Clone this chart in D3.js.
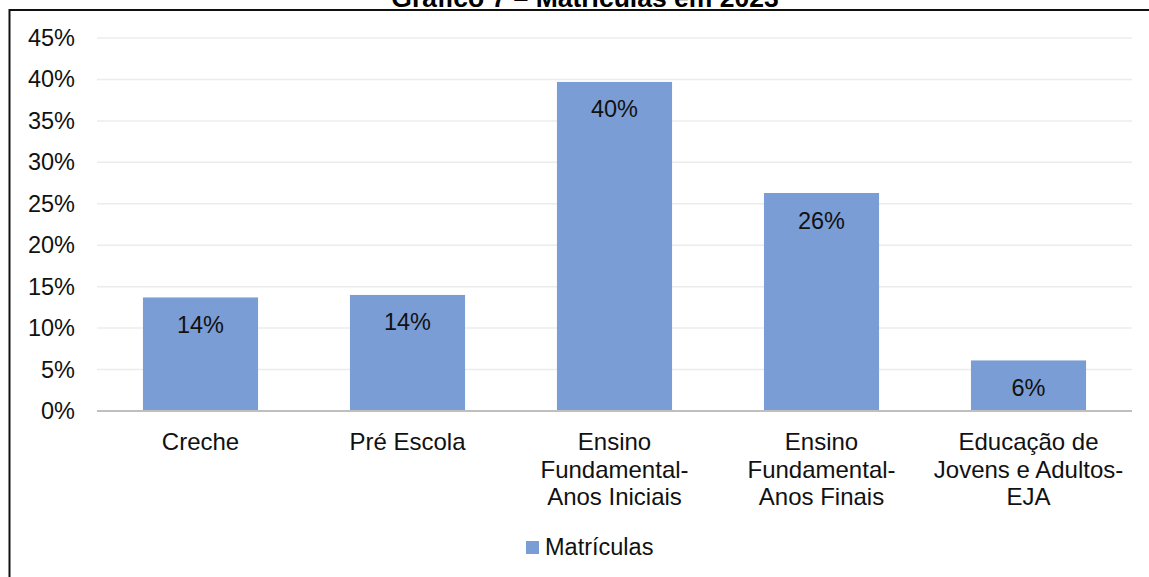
<!DOCTYPE html>
<html lang="pt">

<head>
  <meta charset="UTF-8">
  <title>Matrículas em 2023</title>
  <script src="https://d3js.org/d3.v7.min.js"></script>
  <style>
    body { margin: 0; background: #fff; }
    svg { display: block; font-family: Arial, "Liberation Sans", sans-serif; }
  </style>
</head>

<body>
  <script>

    // data
    var categories = ["Creche", "Pré Escola", "Ensino Fundamental- Anos Iniciais", "Ensino Fundamental- Anos Finais", "Educação de Jovens e Adultos- EJA"];
    var categoryLines = [
      ["Creche"],
      ["Pré Escola"],
      ["Ensino", "Fundamental-", "Anos Iniciais"],
      ["Ensino", "Fundamental-", "Anos Finais"],
      ["Educação de", "Jovens e Adultos-", "EJA"]
    ];
    var matriculas = [0.137, 0.140, 0.397, 0.263, 0.061];
    var yTicks = [0, 0.05, 0.10, 0.15, 0.20, 0.25, 0.30, 0.35, 0.40, 0.45];
    var seriesName = "Matrículas";
    var title = "Gráfico 7 – Matrículas em 2023";

    var W = 1149, H = 577;
    var margin = { top: 38, right: 17, bottom: 166, left: 97 };
    var width = W - margin.left - margin.right;
    var height = H - margin.top - margin.bottom;

    var barColor = "#7b9dd5";
    var fontSize = "23.5px";

    var x = d3.scaleBand().domain(categories).range([0, width]).paddingInner(0.444).paddingOuter(0.222);
    var y = d3.scaleLinear().domain([0, 0.45]).range([height, 0]);

    var svg = d3.select("body").append("svg")
      .attr("width", W)
      .attr("height", H);

    // outer frame (table cell border) and the title, cut by the top edge as in the source
    svg.append("rect")
      .attr("x", 9.5).attr("y", 10)
      .attr("width", 1300).attr("height", 700)
      .attr("fill", "none")
      .attr("stroke", "#111")
      .attr("stroke-width", 2);

    svg.append("text")
      .attr("x", 585).attr("y", 7)
      .attr("text-anchor", "middle")
      .style("font-weight", "bold")
      .style("font-size", "26.5px")
      .text(title);

    var g = svg.append("g")
      .attr("transform", "translate(" + margin.left + "," + margin.top + ")");

    // gridlines
    g.append("g")
      .selectAll("line")
      .data(yTicks.slice(1))
      .enter()
      .append("line")
      .attr("x1", 0).attr("x2", width)
      .attr("y1", function (d) { return y(d); })
      .attr("y2", function (d) { return y(d); })
      .attr("stroke", "#ececec")
      .attr("stroke-width", 1.5);

    // y axis labels
    var yAxis = g.append("g")
      .call(d3.axisLeft(y).tickValues(yTicks).tickFormat(d3.format(".0%")).tickSize(0).tickPadding(22));
    yAxis.select(".domain").remove();
    yAxis.selectAll("text")
      .attr("fill", "#111")
      .style("font-size", fontSize)
      .style("font-family", "Arial, 'Liberation Sans', sans-serif");

    // bars
    g.selectAll(".bar")
      .data(matriculas)
      .enter()
      .append("rect")
      .attr("class", "bar")
      .attr("x", function (d, i) { return x(categories[i]); })
      .attr("y", function (d) { return y(d); })
      .attr("width", x.bandwidth())
      .attr("height", function (d) { return height - y(d); })
      .attr("fill", barColor);

    // data labels
    g.selectAll(".lbl")
      .data(matriculas)
      .enter()
      .append("text")
      .attr("class", "lbl")
      .attr("x", function (d, i) { return x(categories[i]) + x.bandwidth() / 2; })
      .attr("y", function (d) { return y(d) + 35.5; })
      .attr("text-anchor", "middle")
      .attr("fill", "#111")
      .style("font-size", fontSize)
      .text(function (d) { return Math.round(d * 100) + "%"; });

    // x axis line
    g.append("line")
      .attr("x1", 0).attr("x2", width)
      .attr("y1", height).attr("y2", height)
      .attr("stroke", "#bfbfbf")
      .attr("stroke-width", 2);

    // category labels
    var cat = g.selectAll(".cat")
      .data(categories)
      .enter()
      .append("text")
      .attr("class", "cat")
      .attr("text-anchor", "middle")
      .attr("fill", "#111")
      .style("font-size", "24px")
      .attr("transform", function (d) { return "translate(" + (x(d) + x.bandwidth() / 2) + "," + (height + 39) + ")"; });
    cat.selectAll("tspan")
      .data(function (d, i) { return categoryLines[i]; })
      .enter()
      .append("tspan")
      .attr("x", 0)
      .attr("y", function (d, i) { return i * 27.5; })
      .text(function (d) { return d; });

    // legend
    var legend = svg.append("g").attr("transform", "translate(526,541)");
    legend.append("rect")
      .attr("width", 13).attr("height", 13)
      .attr("fill", barColor);
    legend.append("text")
      .attr("x", 19).attr("y", 14)
      .attr("fill", "#111")
      .style("font-size", fontSize)
      .text(seriesName);
  </script>
</body>

</html>
